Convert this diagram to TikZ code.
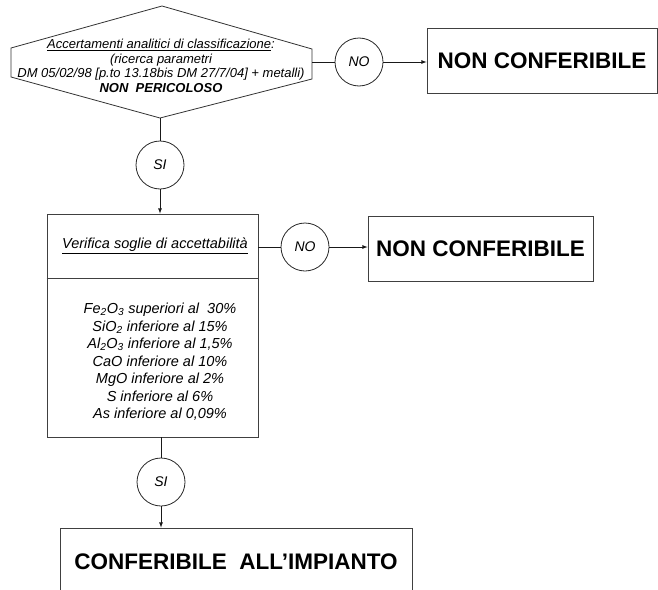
\documentclass[tikz,border=0pt]{standalone}
\usepackage{fontspec}
\setmainfont{Liberation Sans}
\usepackage{tikz}
\usetikzlibrary{calc}
\usetikzlibrary{arrows}
\usetikzlibrary{positioning}
\tikzset{decision/.style={circle,draw=black!85,line width=0.8pt,minimum size=48pt,inner sep=0pt,font=\fontsize{14}{16}\selectfont\itshape}}
\tikzset{outbox/.style={rectangle,draw=black!75,line width=0.8pt,inner sep=0pt,font=\fontsize{22.5}{26}\selectfont\bfseries}}
\tikzset{link/.style={draw=black!90,line width=0.8pt}}

\begin{document}
\begin{tikzpicture}[x=1pt,y=-1pt]
\useasboundingbox (0,0) rectangle (658,589);
\clip (0,0) rectangle (658,589);

    % first check
    \coordinate (hexT) at (162,6);
    \coordinate (hexR) at (312,62);
    \coordinate (hexB) at (160,118);
    \draw[draw=black!80, line width=0.8pt] (hexT) -- (312,49) -- (hexR) -- (312,79) -- (hexB) -- (11,77) -- (11,48) -- cycle;
    \node[align=center, font=\fontsize{13}{14.5}\selectfont\itshape] (acc) at (161,66)
        {\underline{Accertamenti analitici di classificazione}:\\(ricerca parametri\\DM 05/02/98 [p.to 13.18bis DM 27/7/04] + metalli)\\\bfseries NON\ \ PERICOLOSO};

    \node[decision] (no1) at (359,62) {NO};
    \node[outbox, minimum width=230pt, minimum height=65pt] (nonconf1) at (542,60.5) {NON CONFERIBILE};
    \node[decision] (si1) at (160,165) {SI};

    \draw[link] (hexR) -- (no1);
    \draw[link, -latex] (no1) -- (no1 -| nonconf1.west);
    \draw[link] (hexB) -- (si1);

    % second check
    \node[outbox, minimum width=211pt, minimum height=223pt] (verbox) at (152.5,325.5) {};
    \draw[draw=black!75, line width=0.8pt] (verbox.west |- 0,278) -- (verbox.east |- 0,278);
    \node[font=\fontsize{14.5}{17}\selectfont\itshape] (verhead) at (155,246) {\underline{Verifica soglie di accettabilità}};
    \node[align=center, font=\fontsize{14.5}{17.5}\selectfont\itshape] (soglie) at (160,362)
        {Fe\textsubscript{2}O\textsubscript{3} superiori al\ \ 30\%\\
         SiO\textsubscript{2} inferiore al 15\%\\
         Al\textsubscript{2}O\textsubscript{3} inferiore al 1,5\%\\
         CaO inferiore al 10\%\\
         MgO inferiore al 2\%\\
         S inferiore al 6\%\\
         As inferiore al 0,09\%};

    \draw[link, -latex] (si1) -- (si1 |- verbox.north);

    \node[decision] (no2) at (305,247) {NO};
    \node[outbox, minimum width=225pt, minimum height=65pt] (nonconf2) at (480.5,248.5) {NON CONFERIBILE};
    \draw[link] (verbox.east |- no2) -- (no2);
    \draw[link, -latex] (no2) -- (no2 -| nonconf2.west);

    % result
    \node[decision] (si2) at (161,482) {SI};
    \node[outbox, minimum width=352pt, minimum height=68pt] (conf) at (236,562) {CONFERIBILE\ \ ALL’IMPIANTO};
    \draw[link] (si2 |- verbox.south) -- (si2);
    \draw[link, -latex] (si2) -- (si2 |- conf.north);

\end{tikzpicture}
\end{document}
